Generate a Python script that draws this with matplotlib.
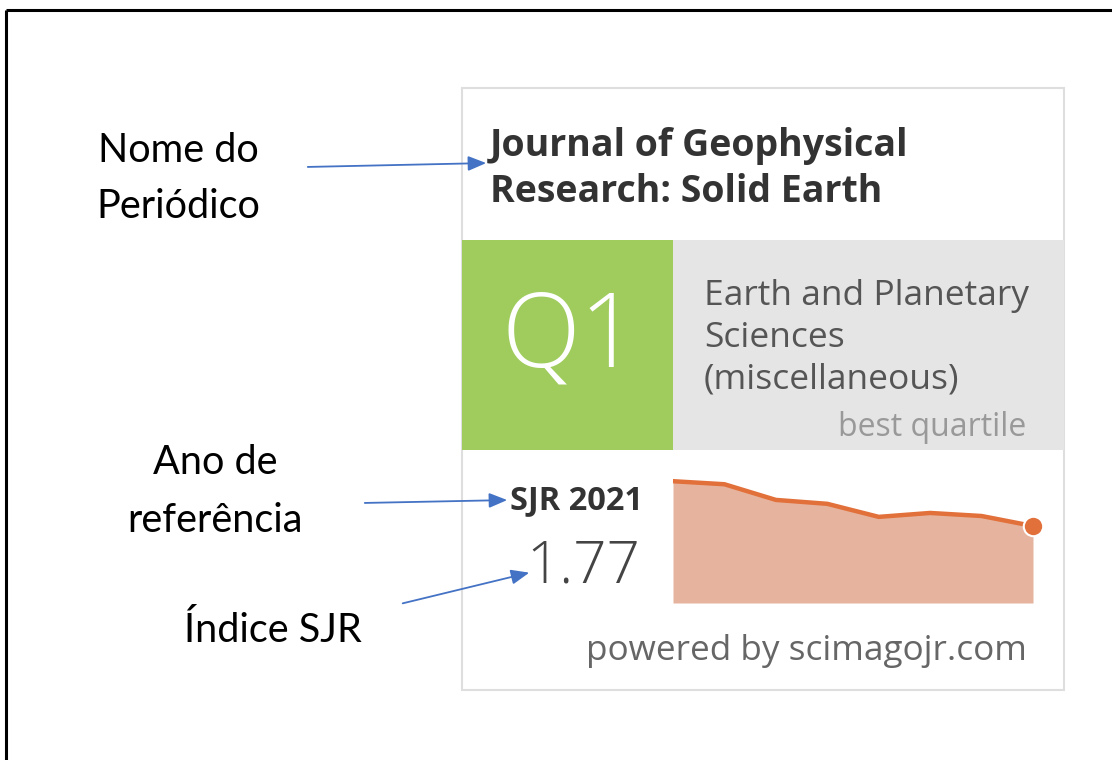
import matplotlib
matplotlib.use("Agg")
import matplotlib.pyplot as plt
from matplotlib.patches import Rectangle

# sparkline data (SJR per year)
years = [2014, 2015, 2016, 2017, 2018, 2019, 2020, 2021]
sjr = [2.80, 2.73, 2.37, 2.28, 1.98, 2.07, 2.00, 1.77]

journal_lines = ["Journal of Geophysical", "Research: Solid Earth"]
category_lines = ["Earth and Planetary", "Sciences", "(miscellaneous)"]
quartile = "Q1"
sjr_year = "SJR 2021"
sjr_value = "1.77"

W, H = 1112, 760
fig = plt.figure(figsize=(W / 100, H / 100), dpi=100)
ax = fig.add_axes([0, 0, 1, 1])
ax.set_xlim(0, W)
ax.set_ylim(H, 0)
ax.axis("off")

card_font = "Open Sans"
label_font = "Lato"
blue = "#4472c4"

# outer frame (only top and left visible)
ax.plot([6, W], [10, 10], color="black", lw=2.2, solid_capstyle="butt")
ax.plot([6, 6], [10, H], color="black", lw=2.2, solid_capstyle="butt")

# card
ax.add_patch(Rectangle((462, 88), 602, 602, facecolor="white", edgecolor="#dedede", lw=1.5))
ax.add_patch(Rectangle((462, 240), 211, 210, facecolor="#a0cc5e", edgecolor="none"))
ax.add_patch(Rectangle((673, 240), 391, 210, facecolor="#e5e5e5", edgecolor="none"))

# title
for i, line in enumerate(journal_lines):
    ax.text(490, 146 + i * 46, line, fontsize=27, fontweight="bold", family=card_font,
            color="#333333", va="center", ha="left")

ax.text(570, 340, quartile, fontsize=74, fontweight="light", family=card_font,
        color="white", va="center", ha="center")

for i, line in enumerate(category_lines):
    ax.text(704, 296 + i * 42, line, fontsize=25.5, family=card_font,
            color="#555555", va="center", ha="left")
ax.text(1026, 428, "best quartile", fontsize=23, family=card_font,
        color="#999999", va="center", ha="right")

ax.text(510, 501, sjr_year, fontsize=23.5, fontweight="bold", family=card_font,
        color="#333333", va="center", ha="left")
ax.text(640, 567, sjr_value, fontsize=42, fontweight="light", family=card_font,
        color="#444444", va="center", ha="right")

ax.text(1027, 651, "powered by scimagojr.com", fontsize=25.3, family=card_font,
        color="#666666", va="center", ha="right")

# left labels
ax.text(178, 150, "Nome do", fontsize=28.5, family=label_font, color="black", va="center", ha="center")
ax.text(178, 206, "Periódico", fontsize=28.5, family=label_font, color="black", va="center", ha="center")
ax.text(215, 463, "Ano de", fontsize=28.5, family=label_font, color="black", va="center", ha="center")
ax.text(215, 520, "referência", fontsize=28.5, family=label_font, color="black", va="center", ha="center")
ax.text(273, 630, "Índice SJR", fontsize=28.5, family=label_font, color="black", va="center", ha="center")

# arrows
arrow_style = dict(arrowstyle="-|>,head_length=1.1,head_width=0.45", color=blue, lw=1.3)
ax.annotate("", xy=(489, 163), xytext=(305, 167), arrowprops=arrow_style)
ax.annotate("", xy=(510, 500), xytext=(362, 503), arrowprops=arrow_style)
ax.annotate("", xy=(532, 572), xytext=(400, 604), arrowprops=arrow_style)

# sparkline area chart
x0, x1, ybot, ytop = 673, 1033, 603, 470
spark = fig.add_axes([x0 / W, 1 - ybot / H, (x1 - x0) / W, (ybot - ytop) / H])
spark.fill_between(years, sjr, 0, color="#e6b49e", lw=0)
spark.plot(years, sjr, color="#e2703a", lw=3.2, solid_joinstyle="round")
spark.plot(years[-1], sjr[-1], "o", color="#e2703a", ms=14, mec="white", mew=1.5, clip_on=False)
spark.set_xlim(years[0], years[-1])
spark.set_ylim(0, (ybot - ytop) / 43.5)
spark.axis("off")

fig.savefig("out.png", dpi=100)
